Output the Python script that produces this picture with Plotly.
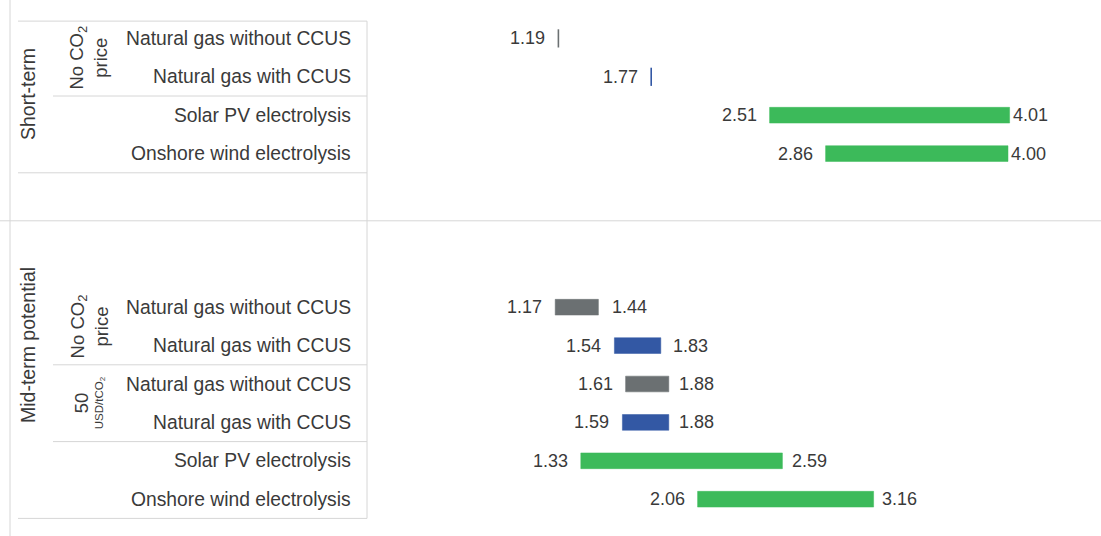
import plotly.graph_objects as go

# ---- data ----
categories = ["Natural gas without CCUS", "Natural gas with CCUS",
              "Solar PV electrolysis", "Onshore wind electrolysis",
              "Natural gas without CCUS", "Natural gas with CCUS",
              "Natural gas without CCUS", "Natural gas with CCUS",
              "Solar PV electrolysis", "Onshore wind electrolysis"]
low_values = [1.19, 1.77, 2.51, 2.86, 1.17, 1.54, 1.61, 1.59, 1.33, 2.06]
high_values = [1.19, 1.77, 4.01, 4.00, 1.44, 1.83, 1.88, 1.88, 2.59, 3.16]
technology = ["gas", "ccus", "res", "res", "gas", "ccus", "gas", "ccus", "res", "res"]
periods = ["Short-term", "Mid-term potential"]
price_groups = ["No CO<sub>2</sub><br>price", "No CO<sub>2</sub><br>price",
                "<span style='font-size:18.5px'>50</span><br>USD/tCO<sub>2</sub>"]

# ---- layout helpers (styling) ----
W, H = 1101, 536
ROW = 38.4
slots = [1, 2, 3, 4, 8, 9, 10, 11, 12, 13]
colors = {"gas": "#6b7072", "ccus": "#3358a4", "res": "#3cba5a"}
hi_gap = [8, 8, 1, 1, 12, 10, 8, 8, 8, 6]
group_font = [18.5, 18.5, 11.5]
x0_px = 368
px_per_unit = 160.0
xmax = (W - x0_px) / px_per_unit
ymax = H / ROW
TXT = "#3a3a3a"
FONT = "Liberation Sans, Arial, sans-serif"
LINE = "#d6d6d6"

fig = go.Figure()

for i, (lo, hi, tech, s) in enumerate(zip(low_values, high_values, technology, slots)):
    c = colors[tech]
    if hi - lo > 0:
        fig.add_trace(go.Bar(
            y=[s], x=[hi - lo], base=[lo], orientation="h", width=0.41,
            marker=dict(color=c, line=dict(color=c, width=0.5)),
            showlegend=False, hoverinfo="skip"))
    else:
        fig.add_trace(go.Scatter(
            y=[s], x=[lo], mode="markers",
            marker=dict(symbol="line-ns", size=13, line=dict(color=c, width=1.6)),
            showlegend=False, hoverinfo="skip"))
    fig.add_annotation(x=lo, y=s, xref="x", yref="y", text=f"{lo:.2f}",
                       showarrow=False, xanchor="right", xshift=-11,
                       font=dict(size=18, color=TXT, family=FONT))
    if hi - lo > 0:
        fig.add_annotation(x=hi, y=s, xref="x", yref="y", text=f"{hi:.2f}",
                           showarrow=False, xanchor="left", xshift=hi_gap[i],
                           font=dict(size=18, color=TXT, family=FONT))
    # category label
    fig.add_annotation(x=353 / W, y=s, xref="paper", yref="y", text=categories[i],
                       showarrow=False, xanchor="right",
                       font=dict(size=19.3, color=TXT, family=FONT))

# period labels
fig.add_annotation(x=28 / W, y=94 / ROW, xref="paper", yref="y", text=periods[0],
                   textangle=-90, showarrow=False, xanchor="center",
                   font=dict(size=19.5, color=TXT, family=FONT))
fig.add_annotation(x=28 / W, y=345 / ROW, xref="paper", yref="y", text=periods[1],
                   textangle=-90, showarrow=False, xanchor="center",
                   font=dict(size=19.5, color=TXT, family=FONT))

# price group labels
for txt, ymid, fs in zip(price_groups, [1.5, 8.5, 10.5], group_font):
    fig.add_annotation(x=89 / W, y=ymid, xref="paper", yref="y", text=txt,
                       textangle=-90, showarrow=False, xanchor="center",
                       font=dict(size=fs, color=TXT, family=FONT))

# separator lines
def hline(y, x_start, x_end):
    fig.add_shape(type="line", xref="paper", yref="y", x0=x_start / W, x1=x_end / W,
                  y0=y, y1=y, line=dict(color=LINE, width=1))

hline(0.55, 18, 367)
hline(2.5, 53, 367)
hline(4.5, 18, 367)
hline(5.75, 0, W)
hline(9.5, 53, 367)
hline(11.5, 53, 367)
hline(13.5, 18, 367)
fig.add_shape(type="line", xref="paper", yref="y", x0=10 / W, x1=10 / W,
              y0=0, y1=ymax, line=dict(color=LINE, width=1))
fig.add_shape(type="line", xref="paper", yref="y", x0=367 / W, x1=367 / W,
              y0=0.55, y1=13.5, line=dict(color=LINE, width=1))

fig.update_layout(
    width=W, height=H, margin=dict(l=0, r=0, t=0, b=0),
    paper_bgcolor="white", plot_bgcolor="white",
    xaxis=dict(domain=[x0_px / W, 1], range=[0, xmax], visible=False, fixedrange=True),
    yaxis=dict(range=[ymax, 0], visible=False, fixedrange=True),
    barmode="overlay", showlegend=False,
)

fig.write_html("out.html", config={"displayModeBar": False},
               post_script="document.body.style.margin='0';")
